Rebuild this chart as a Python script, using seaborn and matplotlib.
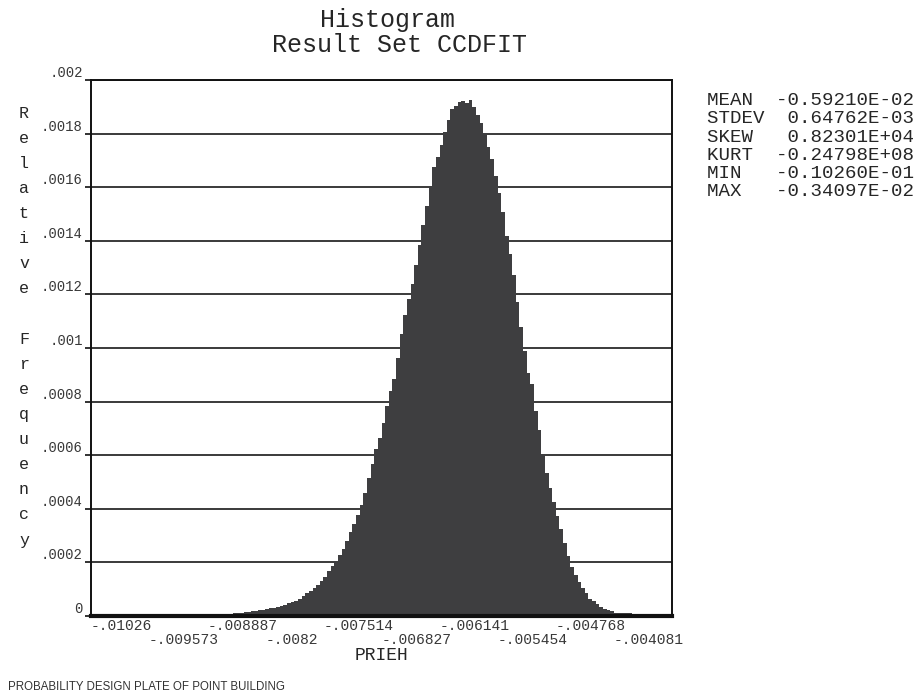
import numpy as np
import pandas as pd
import matplotlib
matplotlib.use("Agg")
import matplotlib.pyplot as plt
import seaborn as sns

# range of the result set (MIN .. MAX)
x_min, x_max = -0.01026, -0.0034097

# relative frequency per bin, in units of 1e-6
freq_e6 = [
    3, 3, 3, 3, 3, 3, 3, 2, 2, 2,
    2, 2, 2, 2, 2, 2, 2, 2, 2, 2,
    2, 2, 2, 2, 2, 3, 3, 3, 3, 3,
    4, 4, 4, 5, 5, 6, 6, 7,
    8, 10, 11, 13, 15, 16, 18, 20, 22, 24,
    27, 29, 31, 34, 37, 42, 47, 51, 56, 65,
    74, 84, 93, 105, 117, 129, 146, 167, 187, 207,
    228, 250, 281, 312, 344, 376, 414, 460, 514, 568,
    622, 665, 720, 785, 839, 884, 961, 1051, 1123, 1184,
    1240, 1310, 1384, 1458, 1531, 1606, 1674, 1714, 1757, 1805,
    1851, 1890, 1904, 1918, 1922, 1916, 1925, 1901, 1869, 1840,
    1801, 1751, 1704, 1643, 1578, 1508, 1419, 1350, 1272, 1170,
    1080, 990, 905, 866, 765, 693, 605, 532, 478, 424,
    372, 324, 271, 224, 182, 153, 126, 105, 84, 65,
    55, 45, 35, 27, 22, 17, 13, 12, 11, 11,
    10, 9, 7, 4, 2, 2, 1, 1, 1, 1,
    1, 0,
]

y_ticks = [0, 0.0002, 0.0004, 0.0006, 0.0008, 0.001, 0.0012, 0.0014, 0.0016, 0.0018, 0.002]
y_labels = ['0', '.0002', '.0004', '.0006', '.0008', '.001', '.0012', '.0014', '.0016', '.0018', '.002']
x_labels = ['-.01026', '-.009573', '-.008887', '-.0082', '-.007514',
            '-.006827', '-.006141', '-.005454', '-.004768', '-.004081']

stat_names = ['MEAN', 'STDEV', 'SKEW', 'KURT', 'MIN', 'MAX']
stat_values = ['-0.59210E-02', '0.64762E-03', '0.82301E+04',
               '-0.24798E+08', '-0.10260E-01', '-0.34097E-02']

sns.set_style("white")
plt.rcParams['font.family'] = ['Liberation Mono', 'DejaVu Sans Mono']

n_bins = len(freq_e6)
edges = np.linspace(x_min, x_max, n_bins + 1)
df = pd.DataFrame({'PRIEH': (edges[:-1] + edges[1:]) / 2,
                   'freq': np.array(freq_e6) * 1e-6})

W, H = 924, 693
fig = plt.figure(figsize=(9.24, 6.93), dpi=100)
ax = fig.add_axes([91 / W, 1 - 616 / H, (672 - 91) / W, (616 - 80) / H])

sns.histplot(data=df, x='PRIEH', weights='freq', bins=n_bins, binrange=(x_min, x_max),
             element='step', fill=True, color='#3e3e40', alpha=1, linewidth=0, ax=ax)

ax.set_xlim(x_min, x_max)
ax.set_ylim(0, 0.002)
ax.set_xlabel('')
ax.set_ylabel('')

# grid behind the bars
ax.yaxis.grid(True, color='#2b2b2b', linewidth=1.3)
ax.xaxis.grid(False)
ax.set_axisbelow(True)

for name, sp in ax.spines.items():
    sp.set_visible(True)
    sp.set_color('#111111')
    sp.set_linewidth(1.4)
ax.spines['bottom'].set_linewidth(3)

ax.set_yticks(y_ticks)
ax.set_yticklabels(y_labels, fontsize=10, color='#383838')
for lab in ax.get_yticklabels():
    lab.set_verticalalignment('bottom')
ax.tick_params(axis='y', left=True, length=4, width=1.3, pad=2,
               direction='out', color='#222222')

# x labels alternate between two rows: even ones on major ticks, odd on minor
step = (x_max - x_min) / 10
pos = [x_min + k * step for k in range(len(x_labels))]
ax.set_xticks(pos[0::2])
ax.set_xticklabels(x_labels[0::2], fontsize=10.5, color='#383838', ha='left')
ax.set_xticks(pos[1::2], minor=True)
ax.set_xticklabels(x_labels[1::2], minor=True, fontsize=10.5, color='#383838', ha='left')
ax.tick_params(axis='x', which='major', bottom=True, length=0, pad=2.5)
ax.tick_params(axis='x', which='minor', bottom=True, length=0, pad=12.5)

txt = '#262626'
fig.text(388 / W, 1 - 20 / H, 'Histogram', ha='center', va='center', fontsize=18, color=txt)
fig.text(400 / W, 1 - 45 / H, 'Result Set CCDFIT', ha='center', va='center', fontsize=18, color=txt)
fig.text(381 / W, 1 - 656 / H, 'PRIEH', ha='center', va='center', fontsize=13, color=txt)

# vertical y label, one letter per row
ylab = 'Relative Frequency'
for k, ch in enumerate(ylab):
    ypx = 113 + k * (540 - 113) / (len(ylab) - 1)
    fig.text(24 / W, 1 - ypx / H, ch, ha='center', va='center', fontsize=12, color=txt)

for k, (name, val) in enumerate(zip(stat_names, stat_values)):
    ypx = 100.5 + k * 18.3
    fig.text(707 / W, 1 - ypx / H, f'{name:<6}{val:>12}', ha='left', va='center',
             fontsize=13.8, color=txt)

fig.text(8 / W, 1 - 687 / H, 'PROBABILITY DESIGN PLATE OF POINT BUILDING',
         ha='left', va='center', fontsize=8.3, color='#333333', family='Liberation Sans')

fig.savefig('out.png', dpi=100)
